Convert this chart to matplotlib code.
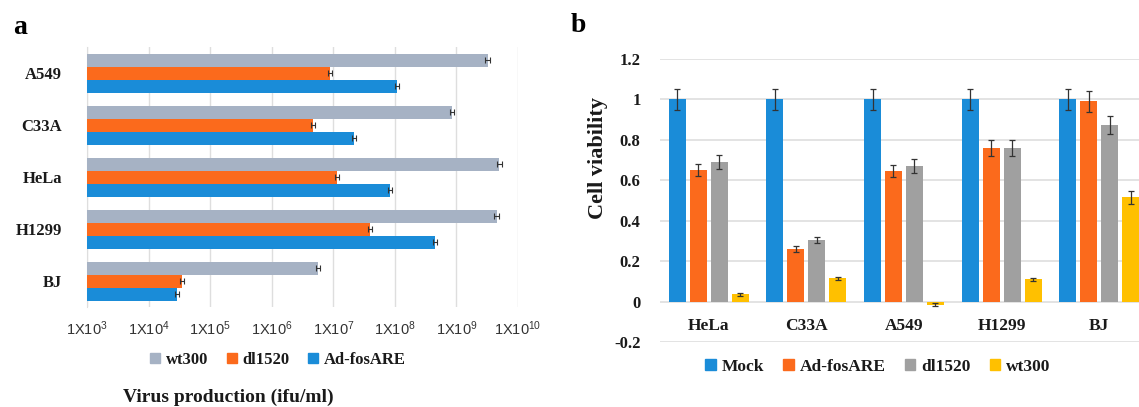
import matplotlib
matplotlib.use("Agg")
import matplotlib.pyplot as plt
from matplotlib.patches import Patch
import numpy as np

# ---------------- data: panel a (virus production, ifu/ml) ----------------
cells_a = ["A549", "C33A", "HeLa", "H1299", "BJ"]
wt300_a = [3.2e9, 8.4e8, 5.0e9, 4.5e9, 5.6e6]
dl1520_a = [8.8e6, 4.7e6, 1.15e7, 3.9e7, 3.5e4]
adfos_a = [1.07e8, 2.2e7, 8.3e7, 4.5e8, 2.9e4]
wt300_a_err = [2.5e8, 6.0e7, 4.0e8, 3.5e8, 4.5e5]
dl1520_a_err = [7.0e5, 3.5e5, 9.0e5, 3.0e6, 3.0e3]
adfos_a_err = [8.0e6, 1.7e6, 6.5e6, 3.5e7, 2.5e3]
xtick_exps = [3, 4, 5, 6, 7, 8, 9, 10]

# ---------------- data: panel b (cell viability) ----------------
cells_b = ["HeLa", "C33A", "A549", "H1299", "BJ"]
mock_b = [1.0, 1.0, 1.0, 1.0, 1.0]
adfos_b = [0.65, 0.26, 0.645, 0.76, 0.99]
dl1520_b = [0.69, 0.305, 0.67, 0.76, 0.875]
wt300_b = [0.035, 0.115, -0.015, 0.11, 0.515]
mock_b_err = [0.05, 0.05, 0.05, 0.05, 0.05]
adfos_b_err = [0.03, 0.015, 0.03, 0.04, 0.05]
dl1520_b_err = [0.035, 0.015, 0.035, 0.04, 0.045]
wt300_b_err = [0.006, 0.008, 0.008, 0.008, 0.03]
yticks_b = [-0.2, 0, 0.2, 0.4, 0.6, 0.8, 1.0, 1.2]
ytick_labels_b = ["-0.2", "0", "0.2", "0.4", "0.6", "0.8", "1", "1.2"]

BLUE = "#1a8cd8"
ORANGE = "#fb6a1c"
GRAYBLUE = "#a6b2c4"
GRAY = "#a0a0a0"
YELLOW = "#ffc000"
GRID = "#dedede"
TXT = "#1a1a1a"

plt.rcParams["font.family"] = ["Liberation Serif", "DejaVu Serif"]
plt.rcParams["mathtext.fontset"] = "custom"
plt.rcParams["mathtext.rm"] = "Liberation Sans"
plt.rcParams["mathtext.it"] = "Liberation Sans"

W, H = 1139, 407
fig = plt.figure(figsize=(W / 100, H / 100), dpi=100)

def px_axes(left, top, right, bottom):
    return [left / W, (H - bottom) / H, (right - left) / W, (bottom - top) / H]

# ---------------- panel a ----------------
axa = fig.add_axes(px_axes(87, 47, 518, 307))
y = np.arange(len(cells_a))
bh = 0.25
ekw = dict(ecolor="#333333", elinewidth=0.8, capsize=2, capthick=0.8)
axa.barh(y - bh, wt300_a, height=bh, color=GRAYBLUE, xerr=wt300_a_err, error_kw=ekw, label="wt300", zorder=3)
axa.barh(y, dl1520_a, height=bh, color=ORANGE, xerr=dl1520_a_err, error_kw=ekw, label="dl1520", zorder=3)
axa.barh(y + bh, adfos_a, height=bh, color=BLUE, xerr=adfos_a_err, error_kw=ekw, label="Ad-fosARE", zorder=3)
axa.set_xscale("log")
axa.set_xlim(1e3, 1e10)
axa.set_ylim(len(cells_a) - 0.5, -0.5)
axa.set_yticks(y)
axa.set_yticklabels(cells_a, fontsize=12, fontweight="bold", color=TXT)
axa.set_xticks([10.0 ** e for e in xtick_exps])
axa.set_xticklabels([r"$\mathrm{1X10^{%d}}$" % e for e in xtick_exps], fontsize=10.5, color="#333333")
axa.xaxis.set_minor_locator(matplotlib.ticker.NullLocator())
axa.tick_params(axis="both", length=0)
axa.tick_params(axis="y", pad=18)
axa.tick_params(axis="x", pad=9)
axa.grid(axis="x", color=GRID, lw=1, zorder=0)
for s in ["top", "right", "bottom"]:
    axa.spines[s].set_visible(False)
axa.spines["left"].set_color(GRID)

ha, la = axa.get_legend_handles_labels()
fig.legend([Patch(color=GRAYBLUE), Patch(color=ORANGE), Patch(color=BLUE)], la,
           loc="center", bbox_to_anchor=(278 / W, (H - 360) / H), ncol=3, frameon=False,
           prop=dict(family="Liberation Serif", weight="bold", size=12),
           handlelength=0.6, handleheight=0.6, handletextpad=0.35, columnspacing=1.1,
           labelcolor=TXT)
fig.text(228 / W, (H - 397) / H, "Virus production (ifu/ml)", ha="center", va="center",
         fontsize=14, fontweight="semibold", color=TXT)
fig.text(20 / W, (H - 28) / H, "a", ha="center", va="center", fontsize=20, fontweight="bold")

# ---------------- panel b ----------------
axb = fig.add_axes(px_axes(660, 59, 1139, 342))
x = np.arange(len(cells_b))
slot = 0.215
bw = 0.174
ekw2 = dict(ecolor="#333333", elinewidth=0.9, capsize=2, capthick=0.9)
series_b = [(mock_b, mock_b_err, BLUE, "Mock"), (adfos_b, adfos_b_err, ORANGE, "Ad-fosARE"),
            (dl1520_b, dl1520_b_err, GRAY, "dl1520"), (wt300_b, wt300_b_err, YELLOW, "wt300")]
for i, (vals, errs, col, lab) in enumerate(series_b):
    axb.bar(x + (i - 1.5) * slot, vals, width=bw, color=col, yerr=errs, error_kw=ekw2, label=lab, zorder=3)
axb.set_ylim(-0.2, 1.2)
axb.set_xlim(-0.5, 4.408)
axb.set_yticks(yticks_b)
axb.set_yticklabels(ytick_labels_b, fontsize=12, fontweight="bold", color=TXT)
axb.set_xticks([])
axb.tick_params(axis="y", length=0, pad=14)
axb.grid(axis="y", color=GRID, lw=1.2, zorder=0)
for s in axb.spines.values():
    s.set_visible(False)
for xi, c in zip(x, cells_b):
    axb.text(xi, -0.12, c, ha="center", va="center", fontsize=12.5, fontweight="bold", color=TXT)

fig.text(598 / W, (H - 158) / H, "Cell viability", ha="center", va="center", rotation=90,
         fontsize=16, fontweight="bold", color=TXT)
fig.legend([Patch(color=s[2]) for s in series_b], [s[3] for s in series_b],
           loc="center", bbox_to_anchor=(878 / W, (H - 367) / H), ncol=4, frameon=False,
           prop=dict(family="Liberation Serif", weight="bold", size=12.5),
           handlelength=0.6, handleheight=0.6, handletextpad=0.35, columnspacing=1.1,
           labelcolor=TXT)
fig.text(578 / W, (H - 25) / H, "b", ha="center", va="center", fontsize=20, fontweight="bold")

fig.savefig("out.png", dpi=100)
